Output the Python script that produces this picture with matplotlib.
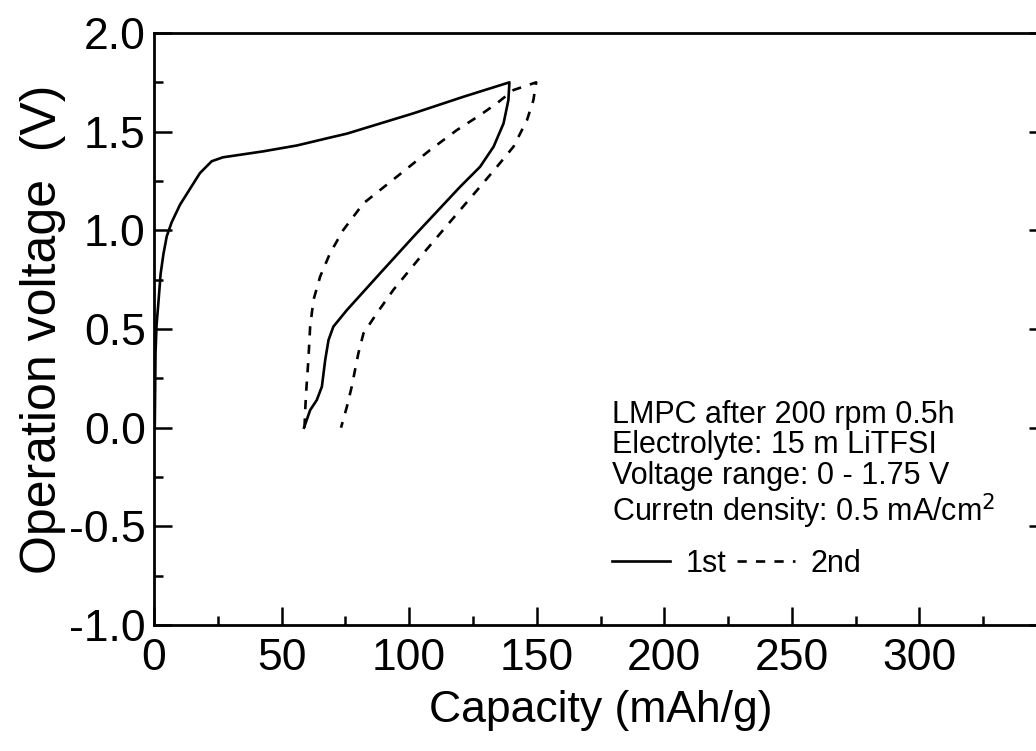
import matplotlib
matplotlib.use("Agg")
import matplotlib.pyplot as plt
from matplotlib.ticker import MultipleLocator, FuncFormatter

plt.rcParams['font.family'] = ['Liberation Sans', 'DejaVu Sans']
plt.rcParams['axes.unicode_minus'] = False

# 1st cycle (solid): charge from 0 V up to 1.75 V, then discharge back to 0 V
cap_1st = [0.3, 0.6, 1.0, 1.7, 2.6, 3.7, 5.0, 6.9, 10.2, 14.1, 18.0, 22.6, 27.0,
           42.7, 56.0, 69.0, 75.6, 101.7, 121.3, 139.3,
           138.9, 137.0, 133.1, 127.8, 120.0, 101.7, 88.6, 75.6, 70.3, 68.4,
           67.1, 65.8, 63.8, 61.2, 58.8]
volt_1st = [0.0, 0.38, 0.52, 0.63, 0.78, 0.88, 0.97, 1.04, 1.13, 1.21, 1.29, 1.35, 1.37,
            1.40, 1.43, 1.47, 1.49, 1.593, 1.677, 1.75,
            1.66, 1.542, 1.424, 1.322, 1.221, 0.968, 0.782, 0.596, 0.512, 0.444,
            0.343, 0.208, 0.14, 0.089, 0.0]

# 2nd cycle (dashed)
cap_2nd = [59.0, 59.2, 59.6, 60.5, 61.2, 62.5, 65.1, 69.0, 74.2, 82.1, 95.2, 108.2,
           118.7, 127.8, 134.4, 140.9, 149.8,
           148.7, 146.2, 140.9, 134.4, 127.8, 120.0, 105.6, 93.8, 87.3, 82.1,
           80.1, 77.5, 75.6, 73.3]
volt_2nd = [0.0, 0.073, 0.174, 0.343, 0.512, 0.647, 0.765, 0.884, 1.002, 1.137, 1.272, 1.407,
            1.508, 1.584, 1.644, 1.711, 1.75,
            1.66, 1.559, 1.424, 1.322, 1.221, 1.103, 0.884, 0.698, 0.579, 0.478,
            0.377, 0.208, 0.106, 0.0]

notes = ["LMPC after 200 rpm 0.5h",
         "Electrolyte: 15 m LiTFSI",
         "Voltage range: 0 - 1.75 V",
         "Curretn density: 0.5 mA/cm$^2$"]
note_baselines = [423, 453, 484, 521]   # pixel rows in the 751 px tall figure

W, H = 1036, 751
fig = plt.figure(figsize=(W / 100, H / 100), dpi=100)
# axes runs a little past the right edge of the picture, as in the original
ax = fig.add_axes([154 / W, 1 - 625 / H, 893 / W, 592 / H])

l1, = ax.plot(cap_1st, volt_1st, color='black', lw=1.9, label='1st')
l2, = ax.plot(cap_2nd, volt_2nd, color='black', lw=1.9, ls=(0, (3.5, 3.5)), label='2nd')

ax.set_xlim(0, 350)
ax.set_ylim(-1.0, 2.0)
ax.xaxis.set_major_locator(MultipleLocator(50))
ax.xaxis.set_minor_locator(MultipleLocator(25))
ax.yaxis.set_major_locator(MultipleLocator(0.5))
ax.yaxis.set_minor_locator(MultipleLocator(0.25))
ax.set_xticks([0, 50, 100, 150, 200, 250, 300])
ax.yaxis.set_major_formatter(FuncFormatter(lambda v, p: f"{v:.1f}"))

for s in ax.spines.values():
    s.set_linewidth(2.0)
ax.tick_params(which='both', direction='in', right=True, top=False, width=1.8)
ax.tick_params(which='major', length=13, labelsize=32)
ax.tick_params(which='minor', length=6.5)
ax.tick_params(axis='y', pad=6)
ax.tick_params(axis='x', pad=9)

ax.set_xlabel("Capacity (mAh/g)", fontsize=32, labelpad=8)
ax.set_ylabel("Operation voltage  (V)", fontsize=36, labelpad=2)

for txt, yb in zip(notes, note_baselines):
    fig.text(612 / W, 1 - yb / H, txt, fontsize=22, va='baseline', ha='left')

ax.legend(handles=[l1, l2], ncol=2, frameon=False, fontsize=22,
          loc='center left', bbox_to_anchor=(606 / W, 1 - 564 / H),
          bbox_transform=fig.transFigure, handlelength=1.9, handletextpad=0.5,
          columnspacing=0.35, borderpad=0.2, borderaxespad=0)

fig.savefig("out.png", dpi=100)
